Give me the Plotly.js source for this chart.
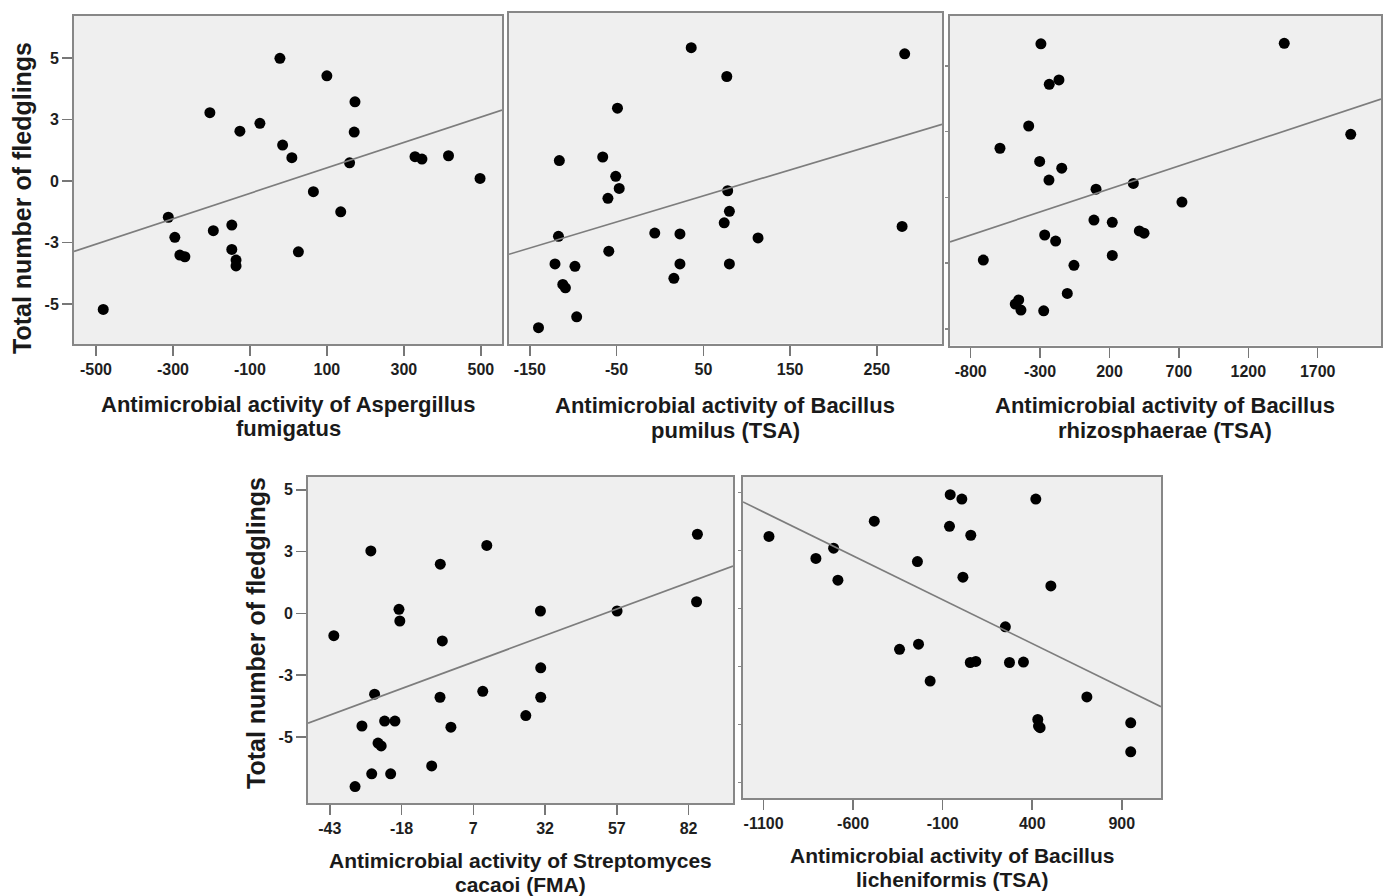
<!DOCTYPE html>
<html>
<head>
<meta charset="utf-8">
<script src="https://cdn.plot.ly/plotly-3.0.1.min.js"></script>
<style>html,body{margin:0;padding:0;background:#fff;}#chart{width:1389px;height:896px;}</style>
</head>
<body>
<div id="chart"></div>
<script>
// ---------- DATA ----------
// Panel 1: Aspergillus fumigatus
const p1X = [-22, 100, 173, -204, -74, -126, 171, -15, 9, 159, 329, 347, 416, 498, 65, 136, -312, -195, -147, -295, -147, -282, -269, -136, -136, 26, -481];
const p1Y = [5.19, 4.45, 3.35, 2.89, 2.44, 2.11, 2.07, 1.52, 0.99, 0.77, 1.03, 0.93, 1.07, 0.11, -0.45, -1.30, -1.53, -2.10, -1.86, -2.38, -2.89, -3.13, -3.20, -3.34, -3.59, -2.99, -5.43];
// Panel 2: Bacillus pumilus (TSA)
const p2X = [36, 282, 77, -49, -116, -66, -51, -47, -60, 78, 80, 74, 279, -117, -6, 23, 113, -59, -121, -98, 23, 80, 16, -112, -109, -96, -140];
const p2Y = [6.84, 6.58, 5.62, 4.28, 2.06, 2.21, 1.39, 0.88, 0.46, 0.78, -0.09, -0.58, -0.73, -1.15, -1.01, -1.05, -1.22, -1.78, -2.32, -2.42, -2.32, -2.32, -2.93, -3.19, -3.33, -4.56, -5.02];
// Panel 3: Bacillus rhizosphaerae (TSA)
const p3X = [-294, 1459, -234, -164, -382, 1938, -589, -303, -144, -236, 103, 372, 722, 88, 220, 415, 449, -267, -188, 220, -709, -56, -104, -454, -479, -438, -274];
const p3Y = [6.07, 6.09, 4.47, 4.64, 2.82, 2.49, 1.94, 1.42, 1.15, 0.68, 0.32, 0.55, -0.19, -0.90, -0.99, -1.33, -1.42, -1.49, -1.73, -2.30, -2.48, -2.69, -3.80, -4.06, -4.22, -4.46, -4.49];
// Panel 4: Streptomyces cacaoi (FMA)
const p4X = [85.1, 11.7, -28.7, -4.5, -18.9, -18.6, -41.6, -3.8, 30.4, 57.1, 84.8, 30.5, -27.4, -4.6, 10.3, 30.5, -31.8, -23.9, -20.3, -0.8, 25.3, -26.2, -25.1, -7.5, -28.4, -21.8, -34.2];
const p4Y = [3.33, 2.86, 2.63, 2.07, 0.17, -0.32, -0.94, -1.16, 0.10, 0.10, 0.49, -2.29, -3.40, -3.53, -3.28, -3.53, -4.74, -4.53, -4.53, -4.79, -4.30, -5.46, -5.58, -6.42, -6.75, -6.75, -7.29];
// Panel 5: Bacillus licheniformis (TSA)
const p5X = [-58, 7, 420, -482, -62, 57, -1070, -709, -808, -241, -685, 13, 504, 250, -235, -341, 54, 85, 273, 351, -170, 705, 431, 435, 444, 950, 950];
const p5Y = [5.10, 4.90, 4.90, 3.91, 3.68, 3.28, 3.23, 2.70, 2.24, 2.10, 1.27, 1.40, 1.01, -0.82, -1.60, -1.83, -2.42, -2.37, -2.42, -2.40, -3.25, -3.96, -4.97, -5.27, -5.34, -5.12, -6.42];

// Fit lines (slope, intercept) per panel
const fitSlope = [0.00537, 0.01104, 0.001818, 0.04463, -0.003929];
const fitIntercept = [0.02, 0.01, -0.035, -2.36, 0.0];

// Tick labels
const p1XTicks = [-500, -300, -100, 100, 300, 500];
const p2XTicks = [-150, -50, 50, 150, 250];
const p3XTicks = [-800, -300, 200, 700, 1200, 1700];
const p4XTicks = [-43, -18, 7, 32, 57, 82];
const p5XTicks = [-1100, -600, -100, 400, 900];
const yTickVals = [-5.2, -2.6, 0, 2.6, 5.2];
const yTickText = ['-5', '-3', '0', '3', '5'];
const p5YTickVals = [-7.8, -5.2, -2.6, 0, 2.6, 5.2];

// Titles
const yTitle = 'Total number of fledglings';
const xTitles = [
  ['Antimicrobial activity of Aspergillus', 'fumigatus'],
  ['Antimicrobial activity of Bacillus', 'pumilus (TSA)'],
  ['Antimicrobial activity of Bacillus', 'rhizosphaerae (TSA)'],
  ['Antimicrobial activity of Streptomyces', 'cacaoi (FMA)'],
  ['Antimicrobial activity of Bacillus', 'licheniformis (TSA)']
];

// ---------- LAYOUT ----------
const W = 1389, H = 896;
const FONT = 'Liberation Sans, Arial, Helvetica, sans-serif';
// pixel boxes [left, right, top, bottom]
const boxes = [
  [74, 502, 16, 344],
  [509, 942, 13, 343.5],
  [950, 1381, 16, 345.5],
  [308, 733, 477, 803],
  [743, 1161, 477, 798]
];
const xRanges = [[-557, 555], [-174, 325], [-949, 2156], [-50.6, 97.5], [-1215, 1119]];
const yRanges = [[-6.89, 6.98], [-5.69, 8.31], [-5.86, 7.17], [-7.98, 5.74], [-8.49, 5.89]];
const xs = [p1X, p2X, p3X, p4X, p5X];
const ys = [p1Y, p2Y, p3Y, p4Y, p5Y];
const xTicks = [p1XTicks, p2XTicks, p3XTicks, p4XTicks, p5XTicks];

const traces = [];
const layout = {
  width: W, height: H,
  margin: {l: 0, r: 0, t: 0, b: 0},
  paper_bgcolor: '#ffffff',
  plot_bgcolor: '#efefef',
  showlegend: false,
  annotations: []
};

for (let i = 0; i < 5; i++) {
  const n = i === 0 ? '' : String(i + 1);
  const xa = 'x' + n, ya = 'y' + n;
  const b = boxes[i];
  traces.push({
    type: 'scatter', mode: 'markers', x: xs[i], y: ys[i], xaxis: xa, yaxis: ya,
    marker: {color: '#000', size: 11, line: {width: 0}}, hoverinfo: 'x+y'
  });
  const lx = xRanges[i];
  traces.push({
    type: 'scatter', mode: 'lines', x: lx,
    y: lx.map(v => fitSlope[i] * v + fitIntercept[i]),
    xaxis: xa, yaxis: ya, line: {color: '#7d7d7d', width: 1.7}, hoverinfo: 'skip'
  });
  const common = {
    showline: true, mirror: true, linecolor: '#878787', linewidth: 2,
    showgrid: false, zeroline: false, fixedrange: true
  };
  layout['xaxis' + n] = Object.assign({}, common, {
    domain: [b[0] / W, b[1] / W], anchor: ya, range: xRanges[i],
    tickmode: 'array', tickvals: xTicks[i], ticktext: xTicks[i].map(String),
    ticks: 'outside', ticklen: 10, tickwidth: 1.5, tickcolor: '#777',
    tickfont: {family: FONT, size: 16, color: '#1e1e1e', weight: 'bold'}
  });
  const yax = Object.assign({}, common, {
    domain: [1 - b[3] / H, 1 - b[2] / H], anchor: xa, range: yRanges[i]
  });
  if (i === 0 || i === 3) {
    Object.assign(yax, {
      tickmode: 'array', tickvals: yTickVals, ticktext: yTickText,
      ticks: 'outside', ticklen: 10, tickwidth: 1.5, tickcolor: '#777',
      tickfont: {family: FONT, size: 16, color: '#1e1e1e', weight: 'bold'}
    });
  } else if (i === 2 || i === 4) {
    Object.assign(yax, {
      tickmode: 'array', tickvals: i === 2 ? yTickVals : p5YTickVals,
      ticks: 'outside', ticklen: 3, tickwidth: 1.5, tickcolor: '#888',
      showticklabels: false
    });
  } else {
    Object.assign(yax, {showticklabels: false, ticks: ''});
  }
  layout['yaxis' + n] = yax;
}

// x titles (two lines each): [centerX, line1 Y, line2 Y, font size]
const titlePos = [
  [288, 404, 429, 22], [725, 405, 430, 22], [1165, 405, 430, 22], [520, 860, 884, 21], [952, 855, 879, 21]
];
for (let i = 0; i < 5; i++) {
  const p = titlePos[i];
  for (let k = 0; k < 2; k++) {
    layout.annotations.push({
      xref: 'paper', yref: 'paper', x: p[0] / W, y: 1 - p[1 + k] / H,
      xanchor: 'center', yanchor: 'middle', showarrow: false,
      text: xTitles[i][k],
      font: {family: FONT, size: p[3], color: '#1a1a1a', weight: 'bold'}
    });
  }
}
// y titles
[[22, 198], [256, 633]].forEach(p => {
  layout.annotations.push({
    xref: 'paper', yref: 'paper', x: p[0] / W, y: 1 - p[1] / H,
    xanchor: 'center', yanchor: 'middle', showarrow: false, textangle: -90,
    text: yTitle,
    font: {family: FONT, size: 25, color: '#1a1a1a', weight: 'bold'}
  });
});

Plotly.newPlot('chart', traces, layout, {staticPlot: true, displayModeBar: false});
</script>
</body>
</html>
